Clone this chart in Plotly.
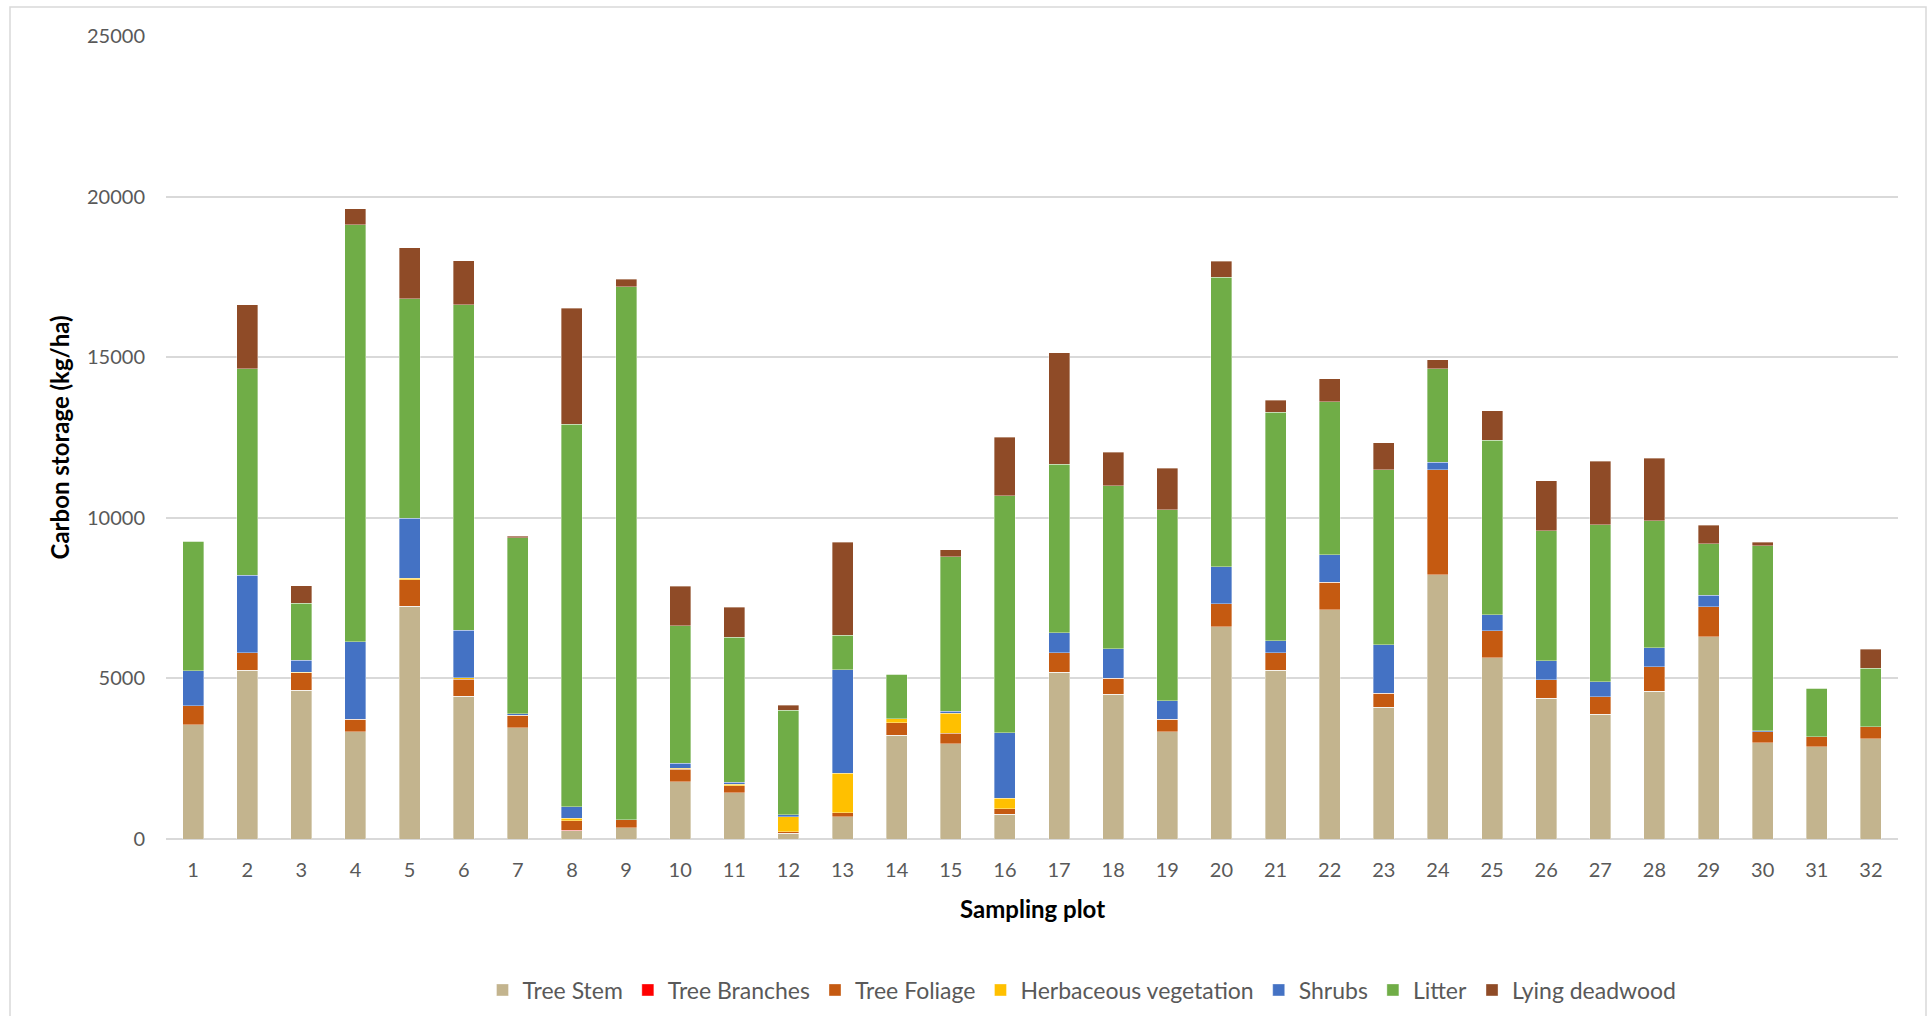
import plotly.graph_objects as go

# Carbon storage per sampling plot, split by pool (kg/ha)
plots = [str(i) for i in range(1, 33)]

tree_stem = [3564, 5252, 4626, 3345, 7252, 4439, 3470, 260, 354, 1782, 1438, 177, 688, 3230, 2970, 771,
             5189, 4501, 3345, 6606, 5252, 7138, 4095, 8221, 5648, 4387, 3887, 4595, 6294, 3001, 2876, 3126]
tree_branches = [0, 0, 0, 0, 0, 0, 0, 20, 0, 0, 0, 0, 0, 0, 0, 0,
                 0, 0, 0, 0, 0, 0, 0, 0, 0, 0, 0, 0, 0, 0, 0, 0]
tree_foliage = [583, 552, 553, 385, 813, 542, 385, 293, 240, 385, 219, 52, 135, 396, 323, 167,
                615, 501, 385, 719, 552, 854, 448, 3271, 833, 573, 542, 771, 937, 333, 313, 375]
herbaceous = [0, 0, 20, 0, 52, 41, 0, 73, 0, 32, 41, 459, 1230, 125, 625, 333,
              0, 0, 0, 0, 0, 0, 0, 0, 0, 0, 0, 0, 0, 0, 0, 0]
shrubs = [1084, 2407, 364, 2418, 1865, 1480, 42, 365, 0, 156, 73, 73, 3209, 0, 52, 2032,
          615, 917, 573, 1157, 365, 865, 1511, 239, 500, 594, 468, 594, 355, 42, 0, 0]
litter = [4043, 6422, 1772, 12978, 6835, 10128, 5481, 11906, 16597, 4283, 4512, 3240, 1084, 1376, 4814, 7388,
          5250, 5085, 5950, 9000, 7122, 4757, 5448, 2902, 5437, 4043, 4887, 3949, 1604, 5752, 1500, 1813]
lying_deadwood = [0, 1997, 542, 499, 1591, 1372, 42, 3609, 229, 1229, 928, 157, 2886, 0, 219, 1820,
                  3473, 1039, 1291, 510, 364, 717, 832, 291, 915, 1562, 1978, 1947, 584, 104, 0, 594]

series = [
    ("Tree Stem", tree_stem, "#C3B48E"),
    ("Tree Branches", tree_branches, "#FF0000"),
    ("Tree Foliage", tree_foliage, "#C55A11"),
    ("Herbaceous vegetation", herbaceous, "#FFC000"),
    ("Shrubs", shrubs, "#4472C4"),
    ("Litter", litter, "#70AD47"),
    ("Lying deadwood", lying_deadwood, "#8F4B27"),
]

FONT = "Lato, 'Open Sans', sans-serif"
GREY = "#595959"

# plot area in pixels: x 166..1898, y 36..839
L, R, T, B = 166, 30, 36, 177
PW = 1928 - L - R
PH = 1016 - T - B
X0PIX, YBOT = L, 1016 - B


def px_x(x):
    return (x - X0PIX) / PW


def px_y(y):
    return (YBOT - y) / PH


fig = go.Figure()
for name, vals, col in series:
    fig.add_trace(go.Bar(
        x=plots, y=vals, name=name,
        marker=dict(color=col, line=dict(color="rgba(255,255,255,0.6)", width=0.6)),
    ))

fig.update_layout(
    barmode="stack",
    bargap=0.61,
    width=1928, height=1016,
    margin=dict(l=L, r=R, t=T, b=B, autoexpand=False),
    plot_bgcolor="white", paper_bgcolor="white",
    font=dict(family=FONT, size=19, color=GREY),
    showlegend=True,
    legend=dict(
        orientation="h", x=px_x(1082), y=px_y(990), xanchor="center", yanchor="middle",
        font=dict(family=FONT, size=23, color=GREY),
        traceorder="normal", itemwidth=30,
    ),
    xaxis=dict(
        type="category", showgrid=False, zeroline=False, showline=False,
        ticks="", tickfont=dict(family=FONT, size=20, color=GREY),
        ticklabelstandoff=17,
    ),
    yaxis=dict(
        range=[0, 25000], tickvals=[0, 5000, 10000, 15000, 20000, 25000],
        ticktext=["0", "5000", "10000", "15000", "20000", "25000"],
        showgrid=True, gridcolor="#D9D9D9", gridwidth=2,
        zeroline=True, zerolinecolor="#D9D9D9", zerolinewidth=2,
        showline=False, ticks="",
        tickfont=dict(family=FONT, size=20, color=GREY),
        ticklabelstandoff=20,
    ),
    annotations=[
        dict(text="<b>Carbon storage (kg/ha)</b>", xref="paper", yref="paper",
             x=px_x(59), y=0.5, textangle=-90, showarrow=False,
             xanchor="center", yanchor="middle",
             font=dict(family=FONT, size=24, color="black")),
        dict(text="<b>Sampling plot</b>", xref="paper", yref="paper",
             x=px_x(1032), y=px_y(909), showarrow=False,
             xanchor="center", yanchor="middle",
             font=dict(family=FONT, size=24, color="black")),
    ],
    shapes=[
        dict(type="rect", xref="paper", yref="paper",
             x0=px_x(10), x1=px_x(1926),
             y0=px_y(1030), y1=px_y(7),
             line=dict(color="#D9D9D9", width=1.5), fillcolor="rgba(0,0,0,0)",
             layer="below"),
    ],
)

fig.write_html("out.html")
